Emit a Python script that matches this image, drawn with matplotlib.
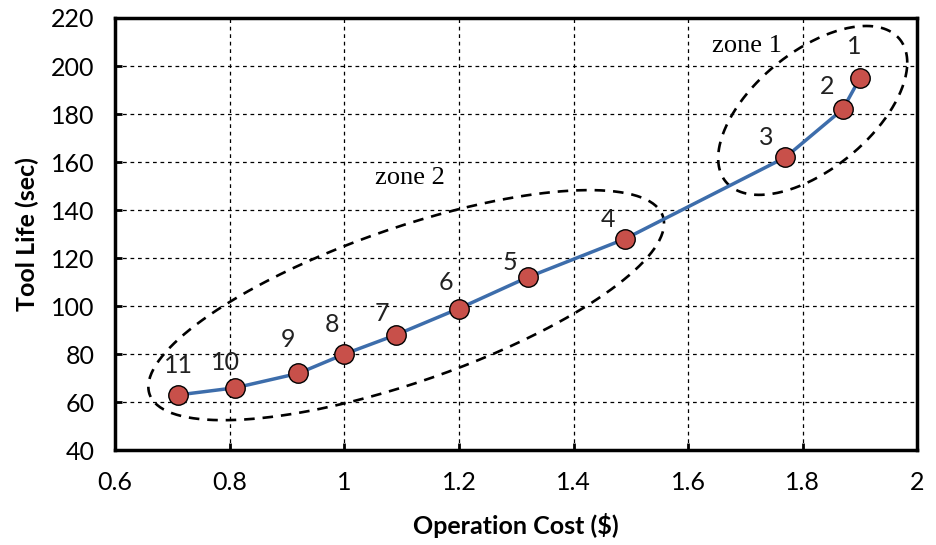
import matplotlib.pyplot as plt
import numpy as np

# operating points (cost, tool life), numbered 1..11
cost = [1.90, 1.87, 1.77, 1.49, 1.32, 1.20, 1.09, 1.00, 0.92, 0.81, 0.71]
life = [195, 182, 162, 128, 112, 99, 88, 80, 72, 66, 63]
point_labels = ["1", "2", "3", "4", "5", "6", "7", "8", "9", "10", "11"]

x_ticks = [0.6, 0.8, 1.0, 1.2, 1.4, 1.6, 1.8, 2.0]
x_ticklabels = ["0.6", "0.8", "1", "1.2", "1.4", "1.6", "1.8", "2"]
y_ticks = [40, 60, 80, 100, 120, 140, 160, 180, 200, 220]

# label offsets in pixels (dx, dy)
label_offsets = [(-6, 20), (-16, 11), (-19, 8), (-17, 8), (-18, 3), (-13, 15),
                 (-14, 10), (-12, 18), (-10, 22), (-10, 14), (0, 18)]

plt.rcParams['font.family'] = ['Lato', 'DejaVu Sans']

fig = plt.figure(figsize=(9.36, 5.45), dpi=100)
ax = fig.add_axes([0.123, 0.174, 0.857, 0.793])

ax.set_xlim(0.6, 2.0)
ax.set_ylim(40, 220)
ax.set_xticks(x_ticks)
ax.set_xticklabels(x_ticklabels)
ax.set_yticks(y_ticks)
ax.tick_params(direction="in", length=5, width=2, labelsize=18, pad=15)
ax.grid(True, color="black", linestyle=(0, (3, 3)), linewidth=0.9)
for s in ax.spines.values():
    s.set_linewidth(2.5)

ax.plot(cost, life, color="#3d6dab", linewidth=2.5, zorder=3)
ax.plot(cost, life, linestyle="none", marker="o", markersize=14,
        markerfacecolor="#c8504a", markeredgecolor="black", markeredgewidth=1, zorder=4)

for xv, yv, lab, (dx, dy) in zip(cost, life, point_labels, label_offsets):
    ax.annotate(lab, (xv, yv), xytext=(dx * 0.72, dy * 0.72), textcoords="offset points",
                ha="center", va="bottom", fontsize=18, color="#222222")


# zone outlines: centre + cos(t)*U + sin(t)*V (conjugate semi-diameters, data units)
def zone(cx, cy, ux, uy, vy):
    t = np.linspace(0, 2 * np.pi, 300)
    ax.plot(cx + ux * np.cos(t), cy + uy * np.cos(t) + vy * np.sin(t),
            color="black", linestyle=(0, (4, 3)), linewidth=1.9, zorder=2)


zone(1.8175, 181.5, 0.165, 19.9, 29.0)
zone(1.108, 100.4, 0.450, 34.0, 33.75)

ax.text(1.642, 208.5, "zone 1", family="Liberation Serif", fontsize=19, ha="left", va="center")
ax.text(1.054, 153.3, "zone 2", family="Liberation Serif", fontsize=19, ha="left", va="center")

ax.set_xlabel("Operation Cost ($)", fontsize=18, fontweight="bold", labelpad=14)
ax.set_ylabel("Tool Life (sec)", fontsize=18, fontweight="bold", labelpad=8)

fig.savefig("out.png", dpi=100)
